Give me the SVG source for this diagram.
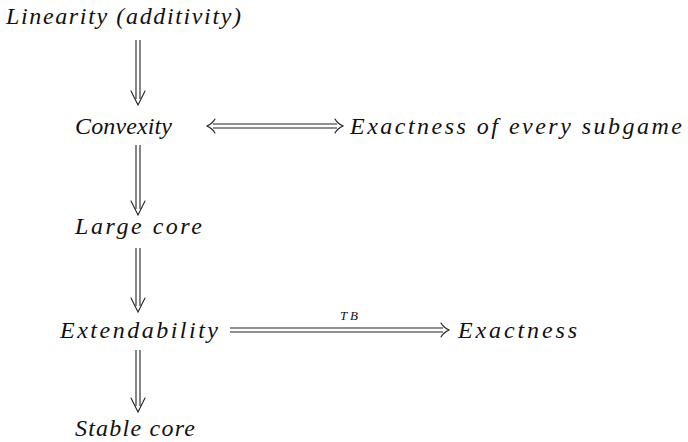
<svg xmlns="http://www.w3.org/2000/svg" width="688" height="442" viewBox="0 0 688 442">
<style>
.t{font-family:"Liberation Serif","Times New Roman",serif;font-style:italic;font-size:24px;fill:#111}
.s{font-family:"Liberation Serif","Times New Roman",serif;font-style:italic;font-size:13px;fill:#111}
.l{stroke:#222;stroke-width:1.1;fill:none}
.h{stroke:#222;stroke-width:1.1;fill:none;stroke-linecap:round}
</style>
<rect width="688" height="442" fill="#fff"/>
<g id="nodes">
<g id="linearity"><text class="t" x="6" y="24" textLength="235" lengthAdjust="spacing">Linearity (additivity)</text></g>
<g id="convexity"><text class="t" x="75" y="134" textLength="97" lengthAdjust="spacing">Convexity</text></g>
<g id="exact-sub"><text class="t" x="350" y="134" textLength="332" lengthAdjust="spacing">Exactness of every subgame</text></g>
<g id="large-core"><text class="t" x="75" y="234" textLength="127" lengthAdjust="spacing">Large core</text></g>
<g id="extend"><text class="t" x="60" y="338" textLength="158" lengthAdjust="spacing">Extendability</text></g>
<g id="exactness"><text class="t" x="458" y="338" textLength="119" lengthAdjust="spacing">Exactness</text></g>
<g id="stable-core"><text class="t" x="75" y="436" textLength="120" lengthAdjust="spacing">Stable core</text></g>
</g>
<g id="connectors">
<g id="a1"><path class="l" d="M136 40V99M140 40V99"/><path class="h" d="M131 91Q135 99 138 105Q141 99 145 91"/></g>
<g id="a2"><path class="l" d="M136 145V209M140 145V209"/><path class="h" d="M131 201Q135 209 138 215Q141 209 145 201"/></g>
<g id="a3"><path class="l" d="M136 248V306M140 248V306"/><path class="h" d="M131 298Q135 306 138 312Q141 306 145 298"/></g>
<g id="a4"><path class="l" d="M136 350V406M140 350V406"/><path class="h" d="M131 398Q135 406 138 412Q141 406 145 398"/></g>
<g id="a5"><path class="l" d="M213 124H337M213 128H337"/><path class="h" d="M215 119Q213 123 207 126Q213 129 215 133M335 119Q337 123 343 126Q337 129 335 133"/></g>
<g id="a6"><path class="l" d="M230 328H443M230 332H443"/><path class="h" d="M441 323Q443 327 449 330Q443 333 441 337"/><text class="s" x="340" y="320" textLength="18" lengthAdjust="spacing">TB</text></g>
</g>
</svg>
